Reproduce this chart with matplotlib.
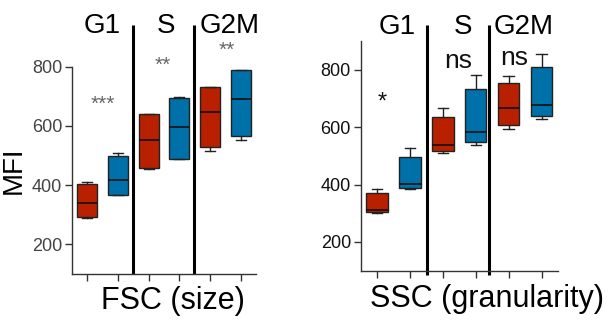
import matplotlib
matplotlib.use("Agg")
import matplotlib.pyplot as plt

plt.rcParams['font.family'] = ['Liberation Sans', 'DejaVu Sans']

phases = ["G1", "S", "G2M"]
groups = ["G1 red", "G1 blue", "S red", "S blue", "G2M red", "G2M blue"]
box_colors = ["#B82000", "#0070A8"] * 3

# FSC (size): whisker low, q1, median, q3, whisker high
fsc_whislo = [288, 368, 455, 487, 515, 554]
fsc_q1     = [291, 368, 457, 489, 529, 565]
fsc_med    = [340, 418, 551, 597, 648, 691]
fsc_q3     = [403, 500, 640, 694, 730, 788]
fsc_whishi = [410, 510, 640, 696, 730, 788]
fsc_sig = ["***", "**", "**"]
fsc_sig_y = [672, 804, 856]

# SSC (granularity)
ssc_whislo = [302, 384, 511, 539, 594, 627]
ssc_q1     = [304, 388, 518, 549, 609, 638]
ssc_med    = [311, 401, 538, 584, 667, 678]
ssc_q3     = [369, 495, 635, 732, 754, 810]
ssc_whishi = [385, 526, 667, 780, 779, 854]
ssc_sig = ["*", "ns", "ns"]
ssc_sig_y = [684, 829, 842]

yticks = [200, 400, 600, 800]

W, H = 612, 320
fig = plt.figure(figsize=(W / 100, H / 100), dpi=100)


def px_ax(x0, x1, ytop, ybot):
    return fig.add_axes([x0 / W, 1 - ybot / H, (x1 - x0) / W, (ybot - ytop) / H])


def draw_boxes(ax, lo, q1, med, q3, hi):
    stats = []
    for i in range(len(lo)):
        stats.append(dict(whislo=lo[i], q1=q1[i], med=med[i], q3=q3[i], whishi=hi[i], fliers=[]))
    bp = ax.bxp(stats, positions=list(range(len(lo))), widths=0.65, capwidths=0.32,
                patch_artist=True, showfliers=False, manage_ticks=False,
                boxprops=dict(edgecolor="#222222", linewidth=1.0),
                medianprops=dict(color="#111111", linewidth=1.2),
                whiskerprops=dict(color="#222222", linewidth=1.0),
                capprops=dict(color="#222222", linewidth=1.0))
    for patch, c in zip(bp["boxes"], box_colors):
        patch.set_facecolor(c)
    for art in bp["boxes"] + bp["medians"] + bp["whiskers"] + bp["caps"]:
        art.set_clip_on(False)


def style(ax, tickcolor, ylim):
    ax.set_xlim(-0.5, 5.5)
    ax.set_ylim(*ylim)
    ax.set_xticks(range(6))
    ax.set_xticklabels([])
    ax.set_yticks(yticks)
    ax.set_yticklabels([str(t) for t in yticks])
    for s in ["top", "right"]:
        ax.spines[s].set_visible(False)
    for s in ["left", "bottom"]:
        ax.spines[s].set_color("#333333")
        ax.spines[s].set_linewidth(1.0)
    ax.tick_params(axis="both", length=5, width=1.0, color="#333333",
                   labelsize=13, labelcolor=tickcolor, pad=2)
    ax.patch.set_alpha(0)


# Left panel (FSC)
ax1 = px_ax(72, 256, 66.7, 274)
style(ax1, "#444444", (100, 800))
draw_boxes(ax1, fsc_whislo, fsc_q1, fsc_med, fsc_q3, fsc_whishi)
for xs in [1.5, 3.47]:
    ax1.plot([xs, xs], [100, 941], color="black", lw=2.2, clip_on=False, solid_capstyle="butt")
for x, t, y in zip([0.52, 2.47, 4.55], fsc_sig, fsc_sig_y):
    ax1.text(x, y, t, ha="center", va="center", fontsize=15, color="#666666",
             clip_on=False)
ax1.set_ylabel("MFI", fontsize=20, labelpad=4)

# Right panel (SSC)
ax2 = px_ax(360.7, 558, 41, 270.7)
style(ax2, "#111111", (100, 900))
draw_boxes(ax2, ssc_whislo, ssc_q1, ssc_med, ssc_q3, ssc_whishi)
for xs in [1.51, 3.41]:
    ax2.plot([xs, xs], [85, 955], color="black", lw=2.2, clip_on=False, solid_capstyle="butt")
ax2.text(0.14, ssc_sig_y[0], ssc_sig[0], ha="center", va="center", fontsize=17,
         color="#111111", clip_on=False)
for x, t, y in zip([2.45, 4.18], ssc_sig[1:], ssc_sig_y[1:]):
    ax2.text(x, y, t, ha="center", va="center", fontsize=19, color="#111111", clip_on=False)

# Phase headers
for x, t in zip([102, 166, 230], phases):
    fig.text(x / W, 1 - 33 / H, t, ha="center", va="baseline", fontsize=20)
for x, t in zip([396.7, 463, 524], phases):
    fig.text(x / W, 1 - 34 / H, t, ha="center", va="baseline", fontsize=20)

# X labels
fig.text(173 / W, 1 - 309 / H, "FSC (size)", ha="center", va="baseline", fontsize=22)
fig.text(487 / W, 1 - 307 / H, "SSC (granularity)", ha="center", va="baseline", fontsize=22)

fig.savefig("out.png", dpi=100)
